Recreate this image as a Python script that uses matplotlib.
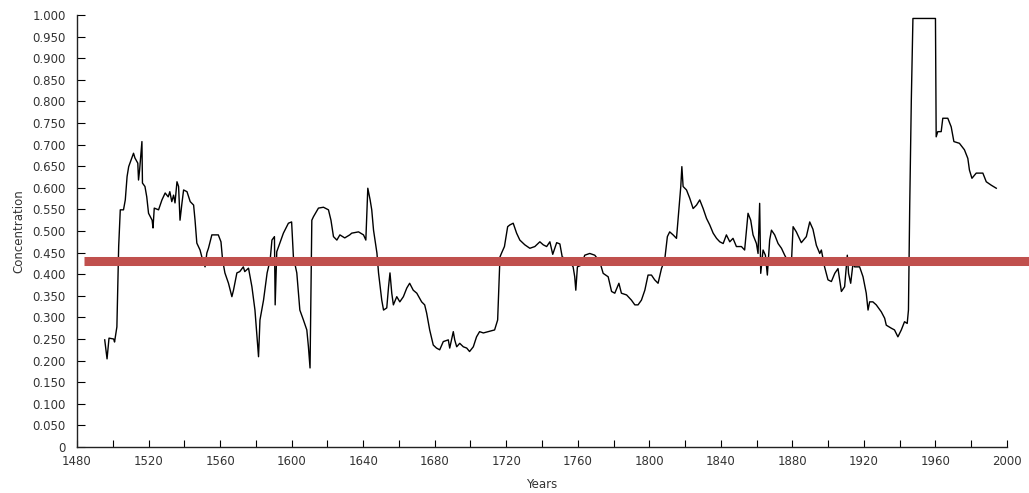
import matplotlib.pyplot as plt
from matplotlib.ticker import MultipleLocator, FuncFormatter

# values
años = [1495.5, 1496.8, 1497.9, 1500.5, 1501.0, 1502.3, 1503.3, 1504.2, 1506.0, 1507.0,
        1508.0, 1508.9, 1511.6, 1512.4, 1514.0, 1514.4, 1515.0, 1516.3, 1516.6, 1518.0,
        1519.0, 1520.0, 1522.0, 1522.5, 1523.2, 1525.6, 1527.5, 1529.3, 1531.0, 1531.9,
        1533.0, 1534.0, 1534.8, 1535.9, 1536.8, 1537.6, 1538.7, 1539.6, 1541.5, 1543.3,
        1545.2, 1546.0, 1547.0, 1548.8, 1549.8, 1551.6, 1552.6, 1553.5, 1555.4, 1559.0,
        1560.5, 1561.4, 1562.7, 1564.7, 1566.6, 1567.5, 1569.4, 1571.0, 1573.0, 1573.8,
        1575.9, 1577.8, 1579.5, 1581.5, 1582.3, 1584.3, 1586.3, 1588.0, 1589.0, 1590.4,
        1590.8, 1591.7, 1593.4, 1595.4, 1598.2, 1600.0, 1601.0, 1602.9, 1604.6, 1606.6,
        1608.5, 1609.4, 1610.3, 1611.3, 1612.2, 1615.0, 1617.8, 1620.6, 1622.0, 1623.4,
        1625.3, 1627.0, 1629.7, 1632.5, 1633.6, 1637.4, 1640.2, 1641.5, 1642.6, 1643.9,
        1644.8, 1645.8, 1647.7, 1648.6, 1650.4, 1651.4, 1653.2, 1654.2, 1655.0, 1656.0,
        1656.9, 1658.8, 1660.5, 1662.5, 1664.4, 1666.0, 1668.0, 1670.0, 1672.7, 1674.4,
        1675.5, 1677.2, 1679.2, 1681.0, 1682.8, 1684.8, 1687.6, 1688.4, 1690.4, 1691.2,
        1692.3, 1694.0, 1696.0, 1697.9, 1699.5, 1701.6, 1703.4, 1705.1, 1707.2, 1710.0,
        1713.5, 1715.2, 1716.5, 1717.4, 1719.0, 1720.8, 1722.0, 1723.9, 1725.8, 1727.6,
        1730.4, 1733.2, 1736.0, 1738.8, 1740.7, 1742.6, 1744.4, 1746.0, 1748.2, 1750.0,
        1751.3, 1754.6, 1757.4, 1758.3, 1758.9, 1759.8, 1762.0, 1763.9, 1766.7, 1769.5,
        1772.3, 1774.2, 1777.0, 1778.9, 1780.7, 1783.0, 1784.4, 1787.3, 1790.0, 1791.9,
        1793.7, 1795.6, 1797.5, 1799.3, 1801.2, 1803.0, 1804.9, 1806.8, 1808.6, 1810.1,
        1811.4, 1813.3, 1815.2, 1816.5, 1817.6, 1818.2, 1818.9, 1820.8, 1822.6, 1824.5,
        1826.4, 1828.2, 1830.1, 1832.0, 1833.8, 1835.7, 1837.6, 1839.4, 1841.3, 1843.1,
        1845.0, 1846.8, 1848.7, 1851.5, 1853.3, 1855.2, 1856.7, 1858.0, 1859.9, 1860.8,
        1861.7, 1862.3, 1863.6, 1864.9, 1866.0, 1867.3, 1868.3, 1870.1, 1872.0, 1873.9,
        1875.7, 1877.6, 1879.4, 1880.4, 1882.2, 1885.0, 1887.8, 1889.7, 1891.5, 1893.4,
        1895.3, 1896.2, 1898.0, 1899.9, 1901.8, 1903.7, 1905.5, 1907.4, 1909.2, 1910.7,
        1911.4, 1912.6, 1913.9, 1914.8, 1917.6, 1919.5, 1921.3, 1922.3, 1923.2, 1925.0,
        1926.9, 1929.7, 1931.6, 1932.5, 1935.3, 1937.1, 1939.0, 1940.9, 1942.7, 1944.2,
        1944.9, 1945.6, 1946.5, 1947.4, 1960.0, 1960.4, 1961.3, 1963.2, 1964.1, 1966.9,
        1968.8, 1970.3, 1973.4, 1976.2, 1978.1, 1979.0, 1980.4, 1982.8, 1986.5, 1988.4,
        1991.2, 1994.0]

concentracion = [0.248, 0.204, 0.252, 0.250, 0.243, 0.278, 0.464, 0.549, 0.549, 0.572,
                 0.626, 0.649, 0.680, 0.669, 0.657, 0.618, 0.641, 0.707, 0.611, 0.603,
                 0.579, 0.541, 0.525, 0.507, 0.553, 0.549, 0.572, 0.588, 0.579, 0.591,
                 0.568, 0.583, 0.565, 0.614, 0.603, 0.525, 0.565, 0.595, 0.591, 0.568,
                 0.560, 0.525, 0.472, 0.456, 0.440, 0.417, 0.449, 0.460, 0.491, 0.491,
                 0.475, 0.433, 0.403, 0.379, 0.348, 0.363, 0.403, 0.406, 0.417, 0.406,
                 0.414, 0.371, 0.317, 0.209, 0.294, 0.340, 0.403, 0.433, 0.479, 0.487,
                 0.329, 0.452, 0.472, 0.495, 0.518, 0.521, 0.440, 0.403, 0.317, 0.294,
                 0.271, 0.232, 0.183, 0.525, 0.533, 0.553, 0.555, 0.549, 0.525, 0.487,
                 0.479, 0.491, 0.484, 0.491, 0.495, 0.498, 0.491, 0.479, 0.599, 0.572,
                 0.549, 0.502, 0.449, 0.403, 0.340, 0.317, 0.322, 0.371, 0.403, 0.356,
                 0.329, 0.348, 0.336, 0.348, 0.368, 0.379, 0.363, 0.356, 0.336, 0.329,
                 0.310, 0.271, 0.236, 0.229, 0.225, 0.244, 0.248, 0.229, 0.267, 0.248,
                 0.232, 0.240, 0.232, 0.229, 0.221, 0.232, 0.255, 0.267, 0.264, 0.267,
                 0.271, 0.294, 0.440, 0.449, 0.464, 0.510, 0.514, 0.518, 0.495, 0.479,
                 0.468, 0.460, 0.464, 0.475, 0.468, 0.464, 0.475, 0.446, 0.473, 0.470,
                 0.440, 0.433, 0.417, 0.394, 0.363, 0.417, 0.421, 0.444, 0.448, 0.444,
                 0.429, 0.402, 0.394, 0.360, 0.356, 0.379, 0.356, 0.352, 0.340, 0.329,
                 0.329, 0.340, 0.363, 0.398, 0.398, 0.387, 0.379, 0.413, 0.433, 0.487,
                 0.498, 0.491, 0.483, 0.549, 0.603, 0.649, 0.603, 0.595, 0.576, 0.552,
                 0.560, 0.572, 0.552, 0.529, 0.514, 0.495, 0.483, 0.475, 0.471, 0.491,
                 0.475, 0.483, 0.464, 0.464, 0.456, 0.541, 0.525, 0.491, 0.471, 0.448,
                 0.564, 0.402, 0.456, 0.444, 0.398, 0.479, 0.502, 0.491, 0.471, 0.460,
                 0.444, 0.429, 0.421, 0.510, 0.498, 0.473, 0.487, 0.521, 0.504, 0.467,
                 0.448, 0.456, 0.417, 0.387, 0.383, 0.402, 0.413, 0.360, 0.371, 0.444,
                 0.402, 0.379, 0.425, 0.417, 0.417, 0.394, 0.356, 0.317, 0.336, 0.336,
                 0.329, 0.313, 0.298, 0.282, 0.275, 0.271, 0.255, 0.271, 0.290, 0.286,
                 0.317, 0.556, 0.803, 0.992, 0.992, 0.718, 0.730, 0.730, 0.761, 0.761,
                 0.741, 0.707, 0.703, 0.688, 0.668, 0.641, 0.622, 0.634, 0.634, 0.614,
                 0.606, 0.599]

nivel_rojo = 0.43
tramo_rojo = [1484, 2013]

etiquetas_x = list(range(1480, 2001, 40))
etiquetas_y = [i * 0.05 for i in range(21)]

fig = plt.figure(figsize=(10.29, 4.93), dpi=100)
ax = fig.add_axes([77 / 1029, 46 / 493, 930 / 1029, 432 / 493])

ax.plot(años, concentracion, color='black', linewidth=1.0)
ax.plot(tramo_rojo, [nivel_rojo, nivel_rojo], color='#c0504d', linewidth=6.5,
        solid_capstyle='butt', clip_on=False)

ax.set_xlim(1480, 2000)
ax.set_ylim(0, 1.0)

ax.spines['top'].set_visible(False)
ax.spines['right'].set_visible(False)
for lado in ('left', 'bottom'):
    ax.spines[lado].set_linewidth(1.0)
    ax.spines[lado].set_color('#222222')

ax.set_xticks(etiquetas_x)
ax.xaxis.set_minor_locator(MultipleLocator(20))
ax.set_yticks(etiquetas_y)
ax.yaxis.set_major_formatter(FuncFormatter(lambda v, p: '0' if v == 0 else f'{v:.3f}'))

ax.tick_params(axis='x', which='both', direction='in', length=5, width=0.8,
               labelsize=8.5, labelcolor='#333333', pad=6)
ax.tick_params(axis='y', which='major', direction='in', length=6, width=0.8,
               labelsize=8.5, labelcolor='#333333', pad=8)

ax.set_xlabel('Years', fontsize=8.5, color='#333333', labelpad=7)
ax.set_ylabel('Concentration', fontsize=8.5, color='#333333', labelpad=5)

plt.savefig('out.png', dpi=100)
